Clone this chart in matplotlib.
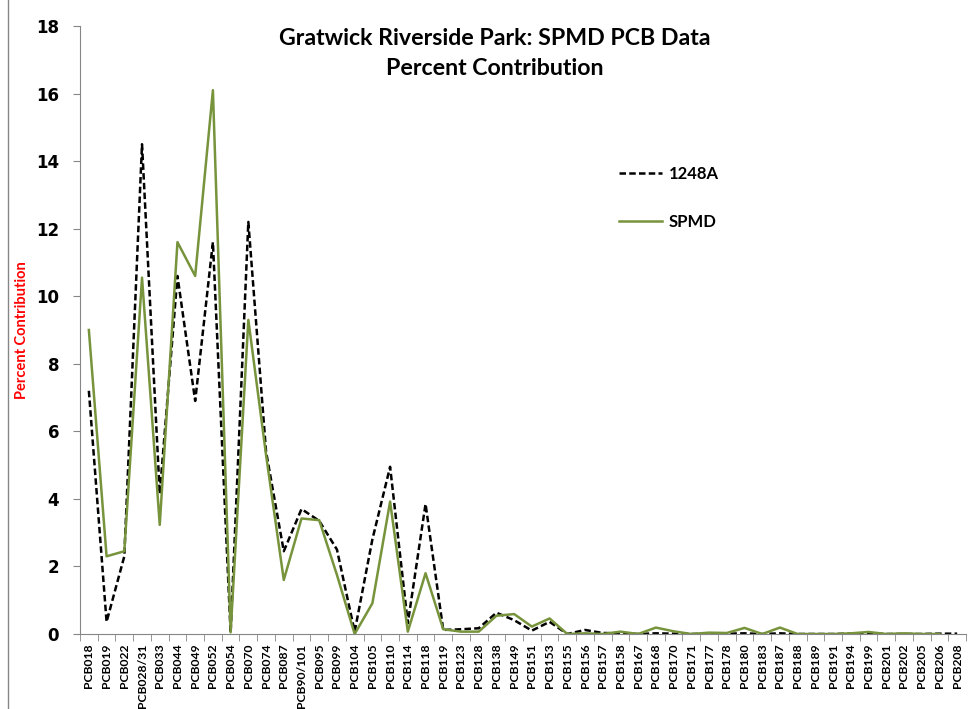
import matplotlib
matplotlib.use("Agg")
import matplotlib.pyplot as plt
import numpy as np
from matplotlib.lines import Line2D

# Data
congeners = ["PCB018", "PCB019", "PCB022", "PCB028/31", "PCB033", "PCB044", "PCB049",
             "PCB052", "PCB054", "PCB070", "PCB074", "PCB087", "PCB90/101", "PCB095",
             "PCB099", "PCB104", "PCB105", "PCB110", "PCB114", "PCB118", "PCB119",
             "PCB123", "PCB128", "PCB138", "PCB149", "PCB151", "PCB153", "PCB155",
             "PCB156", "PCB157", "PCB158", "PCB167", "PCB168", "PCB170", "PCB171",
             "PCB177", "PCB178", "PCB180", "PCB183", "PCB187", "PCB188", "PCB189",
             "PCB191", "PCB194", "PCB199", "PCB201", "PCB202", "PCB205", "PCB206",
             "PCB208"]

aroclor1248 = [7.2, 0.36, 2.3, 14.5, 4.15, 10.6, 6.9, 11.6, 0.03, 12.2, 5.4, 2.45,
               3.7, 3.35, 2.5, 0.07, 2.8, 4.95, 0.32, 3.85, 0.12, 0.14, 0.17, 0.63,
               0.41, 0.1, 0.36, 0.0, 0.12, 0.03, 0.02, 0.0, 0.02, 0.01, 0.0, 0.01,
               0.01, 0.02, 0.0, 0.02, 0.0, 0.0, 0.0, 0.01, 0.02, 0.0, 0.0, 0.0,
               0.01, 0.01]

spmd = [9.0, 2.3, 2.45, 10.55, 3.23, 11.6, 10.6, 16.1, 0.05, 9.3, 5.3, 1.6,
        3.42, 3.37, 1.75, 0.0, 0.91, 3.92, 0.07, 1.8, 0.14, 0.07, 0.07, 0.54,
        0.59, 0.22, 0.46, 0.0, 0.02, 0.0, 0.07, 0.0, 0.19, 0.08, 0.0, 0.04,
        0.03, 0.18, 0.0, 0.19, 0.0, 0.0, 0.0, 0.02, 0.06, 0.0, 0.02, 0.0,
        0.0, np.nan]

green = "#77933C"
axis_gray = "#868686"

fig = plt.figure(figsize=(9.68, 7.09), dpi=100)
ax = fig.add_axes([80/968, 75/709, 886/968, 608/709])

x = np.arange(len(congeners))
ax.plot(x, aroclor1248, color="black", linewidth=1.8, linestyle=(0, (2.6, 1.3)), label="1248A")
ax.plot(x, spmd, color=green, linewidth=1.8, label="SPMD")

ax.set_xlim(-0.5, len(congeners) - 0.5)
ax.set_ylim(0, 18)
ax.set_yticks(np.arange(0, 19, 2))
ax.set_yticklabels([str(v) for v in range(0, 19, 2)], fontfamily="DejaVu Sans",
                   fontweight="bold", fontsize=12)

# labels under each category, ticks between categories
ax.set_xticks(x)
ax.set_xticklabels(congeners, rotation=90, fontfamily="Lato", fontweight="bold", fontsize=8.7)
ax.tick_params(axis="x", which="major", length=0, pad=7)
ax.set_xticks(np.arange(-0.5, len(congeners), 1), minor=True)
ax.tick_params(axis="x", which="minor", length=5, color=axis_gray, direction="out")
ax.tick_params(axis="y", length=5, color=axis_gray, direction="out", pad=10)

for side in ["top", "right"]:
    ax.spines[side].set_visible(False)
for side in ["left", "bottom"]:
    ax.spines[side].set_color(axis_gray)

ax.set_ylabel("Percent Contribution", color="red", fontfamily="Lato", fontweight="bold",
              fontsize=10.5)
ax.yaxis.set_label_coords(-0.058, 0.5)

fig.text(0.511, 0.945, "Gratwick Riverside Park: SPMD PCB Data", ha="center", va="center",
         fontfamily="Lato", fontweight="bold", fontsize=16.7)
fig.text(0.511, 0.904, "Percent Contribution", ha="center", va="center",
         fontfamily="Lato", fontweight="bold", fontsize=16.7)

leg = ax.legend(loc="upper left", bbox_to_anchor=(0.591, 0.794), frameon=False,
                prop={"family": "Lato", "weight": "bold", "size": 12},
                handlelength=2.6, handletextpad=0.4, labelspacing=1.9)

# chart frame line on the left edge
fig.add_artist(Line2D([8/968, 8/968], [0, 1], transform=fig.transFigure,
                      color=axis_gray, linewidth=1))

fig.savefig("out.png", dpi=100)
